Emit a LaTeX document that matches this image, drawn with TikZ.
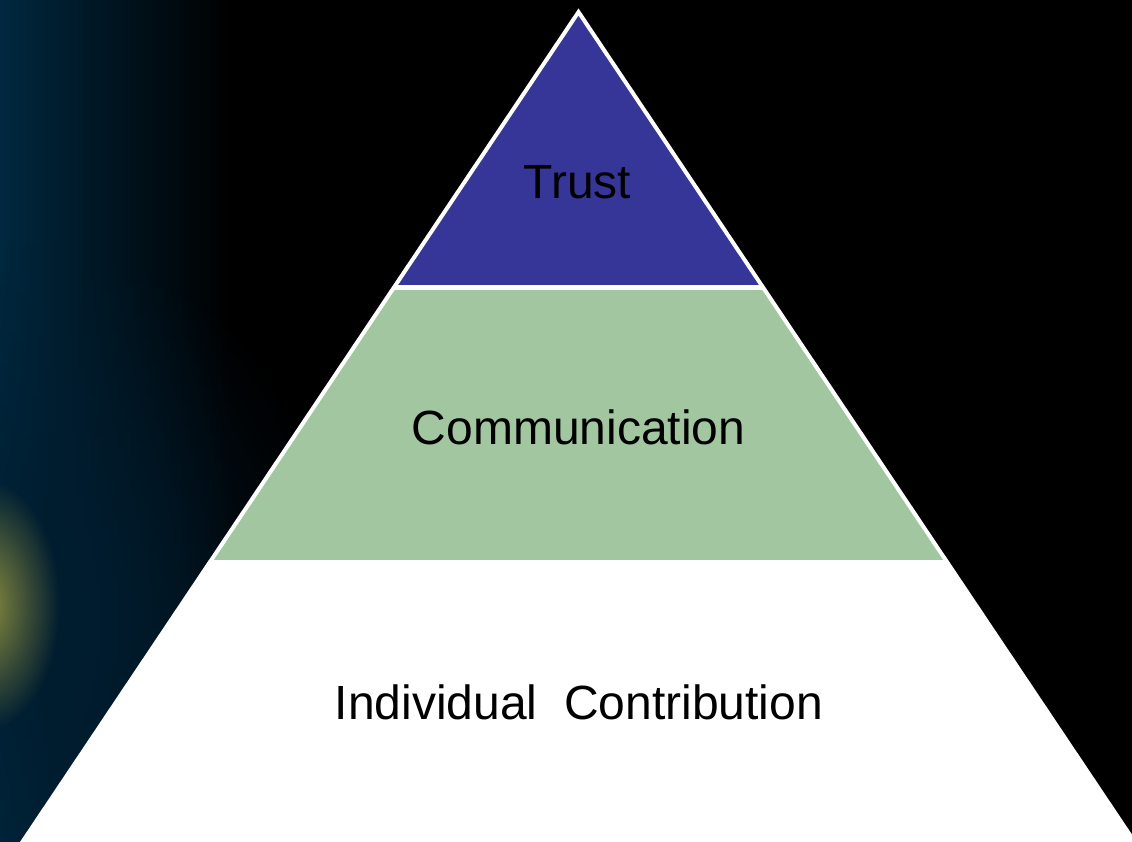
\documentclass[tikz,border=0pt]{standalone}
\usepackage{fontspec}
\setmainfont{Liberation Sans}
\usetikzlibrary{fadings}
\tikzfading[name=softglow, inner color=transparent!0, outer color=transparent!100]
\definecolor{tierblue}{HTML}{363699}
\definecolor{tiergreen}{HTML}{A1C6A0}
\definecolor{bgblue}{HTML}{00283F}
\definecolor{bgblue2}{HTML}{001D30}
\definecolor{glow}{HTML}{8A8C3E}
\begin{document}
\begin{tikzpicture}[x=1pt,y=-1pt,
  tierlabel/.style={font=\fontsize{48}{58}\selectfont, text=black, anchor=base, inner sep=0pt},
  outline/.style={draw=white, line width=4pt, line join=miter}]
\useasboundingbox (0,0) rectangle (1132,841);
\begin{scope}
\clip (0,0) rectangle (1132,841);
% background
\fill[black] (0,0) rectangle (1132,841);
\shade[left color=bgblue, right color=black] (0,0) rectangle (230,841);
\fill[bgblue2, path fading=softglow] (60,620) ellipse (280 and 380);
\fill[glow, path fading=softglow] (-15,605) ellipse (75 and 125);
% pyramid corners
\coordinate (apex) at (578.5,12);
\coordinate (bl) at (394.25,287);
\coordinate (br) at (762.75,287);
\coordinate (gl) at (210.7,561);
\coordinate (gr) at (946.3,561);
\coordinate (wl) at (-16.5,900);
\coordinate (wr) at (1173.5,900);
% tiers
\fill[tierblue] (apex) -- (br) -- (bl) -- cycle;
\fill[tiergreen] (bl) -- (br) -- (gr) -- (gl) -- cycle;
\fill[white] (gl) -- (gr) -- (wr) -- (wl) -- cycle;
\draw[white, line width=5pt] (bl) -- (br);
\draw[white, line width=2pt] (gl) -- (gr);
\draw[outline] (wl) -- (apex) -- (wr);
\end{scope}
% labels
\node[tierlabel] (trust) at (577.5,198) {Trust};
\node[tierlabel] (comm) at (578.5,444) {Communication};
\node[tierlabel] (indiv) at (579,719) {Individual\ \ Contribution};
\end{tikzpicture}
\end{document}
